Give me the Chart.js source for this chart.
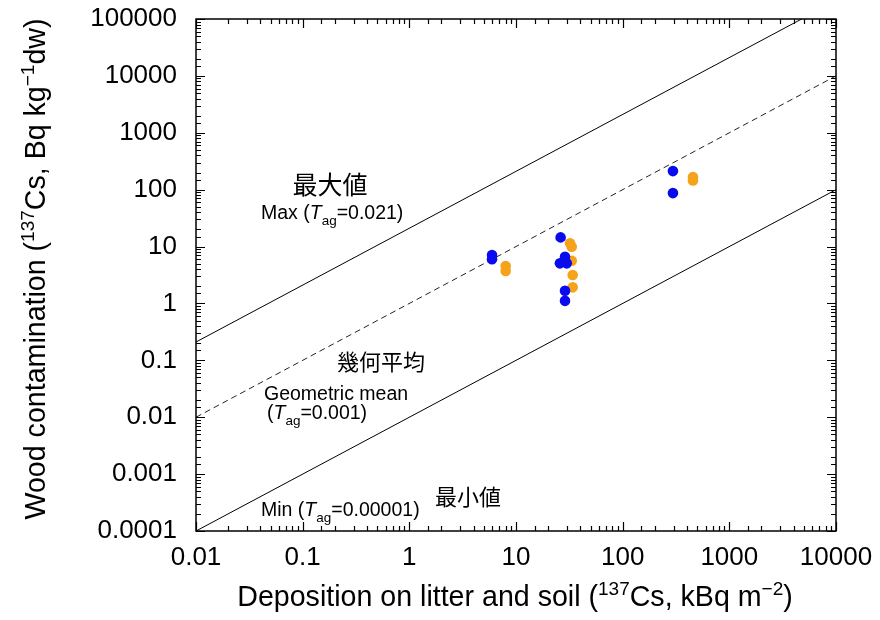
<!DOCTYPE html>
<html>
<head>
<meta charset="utf-8">
<script src="https://cdn.jsdelivr.net/npm/chart.js@4.4.1/dist/chart.umd.min.js"></script>
<style>
  html, body { margin: 0; padding: 0; background: #fff; }
  #wrap { width: 880px; height: 620px; }
</style>
</head>
<body>
<div id="wrap"><canvas id="chart" width="880" height="620"></canvas></div>
<script>
// --- data ---
const blueX = [5.96, 5.96, 26.2, 28.8, 25.8, 29.9, 28.8, 28.8, 296, 296];
const blueY = [7.1, 6.0, 14.5, 6.6, 5.07, 5.07, 1.67, 1.11, 212, 87];
const orangeX = [8.0, 8.0, 32.1, 33.3, 33.3, 34, 34, 456, 456];
const orangeY = [4.54, 3.71, 11.4, 9.9, 5.63, 3.16, 1.92, 167, 145];

// reference lines (T_ag = 0.021, 0.001, 0.00001)
const lineX = [0.01, 10000];
const maxY = [0.21, 210000];
const meanY = [0.01, 10000];
const minY = [0.0001, 100];

const xRange = [0.01, 10000];
const yRange = [0.0001, 100000];

const SANS = '"Liberation Sans", Arial, Helvetica, sans-serif';
const CJK = '"Noto Sans CJK JP", "Noto Sans CJK SC", sans-serif';

function pts(xs, ys) {
    return xs.map((x, i) => ({ x: x, y: ys[i] }));
}

function isDecade(v) {
    const l = Math.log10(v);
    return Math.abs(l - Math.round(l)) < 1e-6;
}

function fmt(v) {
    const e = Math.round(Math.log10(v));
    if (e >= 0) return String(Math.pow(10, e));
    return '0.' + '0'.repeat(-e - 1) + '1';
}

// draw text made of pieces (for super / subscripts)
function drawRich(ctx, parts, x, y, align) {
    let w = 0;
    parts.forEach(p => { ctx.font = p.font; w += ctx.measureText(p.t).width; });
    let cx = align === 'center' ? x - w / 2 : x;
    ctx.textAlign = 'left';
    ctx.textBaseline = 'alphabetic';
    parts.forEach(p => {
        ctx.font = p.font;
        ctx.fillText(p.t, cx, y + (p.dy || 0));
        cx += ctx.measureText(p.t).width;
    });
}

const big = '28.6px ' + SANS, sup = '19px ' + SANS;
const ann = '19.5px ' + SANS, annIt = 'italic 19.5px ' + SANS, annSub = '13.5px ' + SANS;

function tagText(prefix, val) {
    return [
        { t: prefix + '(', font: ann },
        { t: 'T', font: annIt },
        { t: 'ag', font: annSub, dy: 6 },
        { t: '=' + val + ')', font: ann }
    ];
}

const framePlugin = {
    id: 'frame',
    afterDraw(chart) {
        const ctx = chart.ctx;
        const a = chart.chartArea;
        const xs = chart.scales.x, ys = chart.scales.y;
        ctx.save();
        ctx.strokeStyle = '#000';
        ctx.lineWidth = 1.5;
        ctx.strokeRect(a.left, a.top, a.right - a.left, a.bottom - a.top);

        // inward ticks on all four sides
        ctx.lineWidth = 1.2;
        ctx.beginPath();
        xs.ticks.forEach(t => {
            const px = Math.round(xs.getPixelForValue(t.value)) + 0.5;
            const len = isDecade(t.value) ? 9 : 5;
            ctx.moveTo(px, a.bottom); ctx.lineTo(px, a.bottom - len);
            ctx.moveTo(px, a.top); ctx.lineTo(px, a.top + len);
        });
        ys.ticks.forEach(t => {
            const py = Math.round(ys.getPixelForValue(t.value)) + 0.5;
            const len = isDecade(t.value) ? 9 : 5;
            ctx.moveTo(a.left, py); ctx.lineTo(a.left + len, py);
            ctx.moveTo(a.right, py); ctx.lineTo(a.right - len, py);
        });
        ctx.stroke();

        // axis titles
        ctx.fillStyle = '#000';
        drawRich(ctx, [
            { t: 'Deposition on litter and soil (', font: big },
            { t: '137', font: sup, dy: -11 },
            { t: 'Cs, kBq m', font: big },
            { t: '\u22122', font: sup, dy: -11 },
            { t: ')', font: big }
        ], 515, 606, 'center');

        ctx.save();
        ctx.translate(45, 269);
        ctx.rotate(-Math.PI / 2);
        drawRich(ctx, [
            { t: 'Wood contamination (', font: big },
            { t: '137', font: sup, dy: -11 },
            { t: 'Cs, Bq kg', font: big },
            { t: '\u22121', font: sup, dy: -11 },
            { t: 'dw)', font: big }
        ], 0, 0, 'center');
        ctx.restore();

        // line labels
        ctx.textAlign = 'center';
        ctx.textBaseline = 'middle';
        ctx.font = '25px ' + CJK;
        ctx.fillText('最大値', 330, 184);
        ctx.font = '22px ' + CJK;
        ctx.fillText('幾何平均', 381, 362);
        ctx.fillText('最小値', 468, 497);

        drawRich(ctx, tagText('Max ', '0.021'), 261, 219, 'left');
        ctx.font = ann;
        ctx.textAlign = 'left';
        ctx.fillText('Geometric mean', 264, 400);
        drawRich(ctx, tagText('', '0.001'), 267, 419, 'left');
        drawRich(ctx, tagText('Min ', '0.00001'), 261, 516, 'left');
        ctx.restore();
    }
};

const ctx = document.getElementById('chart').getContext('2d');
new Chart(ctx, {
    type: 'scatter',
    data: {
        datasets: [
            { label: 'blue', data: pts(blueX, blueY), backgroundColor: '#0a0aee', pointRadius: 5.3, borderWidth: 0, pointHoverRadius: 5.3 },
            { label: 'orange', data: pts(orangeX, orangeY), backgroundColor: '#f5a31a', pointRadius: 5.3, borderWidth: 0, pointHoverRadius: 5.3 },
            { label: 'max', data: pts(lineX, maxY), showLine: true, pointRadius: 0, borderColor: '#000', borderWidth: 1 },
            { label: 'mean', data: pts(lineX, meanY), showLine: true, pointRadius: 0, borderColor: '#222', borderWidth: 1, borderDash: [6, 4] },
            { label: 'min', data: pts(lineX, minY), showLine: true, pointRadius: 0, borderColor: '#000', borderWidth: 1 }
        ]
    },
    options: {
        responsive: false,
        animation: false,
        layout: { padding: { top: 19, right: 44, left: 0, bottom: 0 } },
        plugins: { legend: { display: false }, tooltip: { enabled: false } },
        scales: {
            x: {
                type: 'logarithmic',
                min: xRange[0], max: xRange[1],
                border: { display: false },
                grid: { display: false, drawTicks: false },
                afterFit: s => { s.height = 89; s.paddingLeft = 0; s.paddingRight = 0; },
                ticks: {
                    autoSkip: false, maxRotation: 0, padding: 11,
                    color: '#000', font: { family: SANS, size: 26 },
                    callback: v => isDecade(v) ? fmt(v) : ''
                }
            },
            y: {
                type: 'logarithmic',
                min: yRange[0], max: yRange[1],
                border: { display: false },
                grid: { display: false, drawTicks: false },
                afterFit: s => { s.width = 196; s.paddingTop = 0; s.paddingBottom = 0; },
                ticks: {
                    autoSkip: false, padding: 19,
                    color: '#000', font: { family: SANS, size: 26 },
                    callback: v => isDecade(v) ? fmt(v) : ''
                }
            }
        }
    },
    plugins: [framePlugin]
});
</script>
</body>
</html>
